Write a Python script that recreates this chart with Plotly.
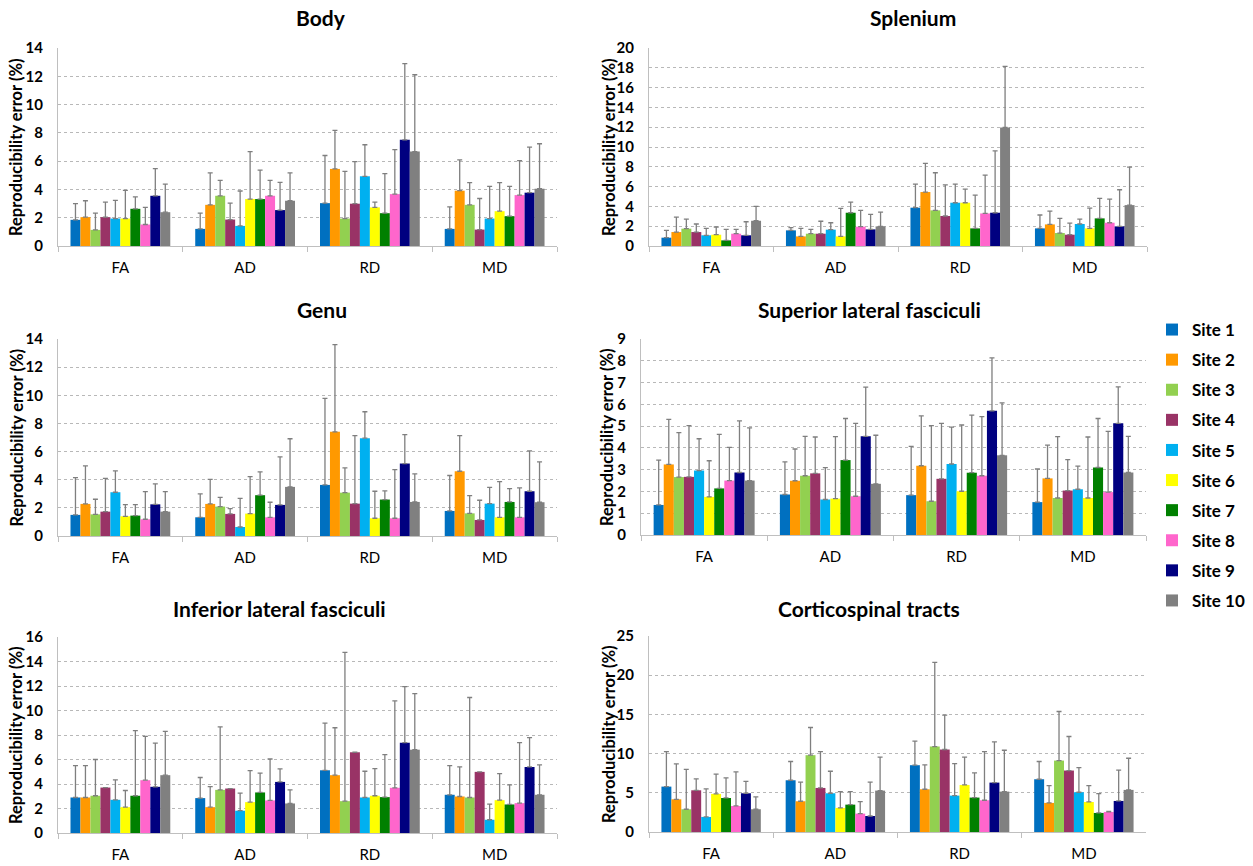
import plotly.graph_objects as go

# ---------------- data ----------------
metrics = ["FA", "AD", "RD", "MD"]
sites = ["Site 1", "Site 2", "Site 3", "Site 4", "Site 5",
         "Site 6", "Site 7", "Site 8", "Site 9", "Site 10"]
site_colors = ["#0070C0", "#FF9900", "#92D050", "#993366", "#00B0F0",
               "#FFFF00", "#008000", "#FF66CC", "#000080", "#808080"]

# values per site: [FA, AD, RD, MD]
body_mean = [[1.85, 1.21, 3.03, 1.21], [2.04, 2.91, 5.45, 3.91], [1.14, 3.55, 1.94, 2.91],
             [2.04, 1.87, 2.99, 1.16], [1.94, 1.42, 4.93, 1.94], [1.94, 3.32, 2.73, 2.46],
             [2.63, 3.32, 2.32, 2.11], [1.52, 3.55, 3.67, 3.60], [3.55, 2.54, 7.51, 3.77],
             [2.39, 3.20, 6.68, 4.05]]
body_sd = [[1.14, 1.11, 3.37, 1.56], [1.16, 2.26, 2.73, 2.18], [1.18, 1.09, 3.34, 1.57],
           [1.06, 1.16, 2.98, 2.20], [1.28, 2.47, 2.23, 2.28], [1.99, 3.36, 0.37, 2.02],
           [0.85, 2.04, 2.80, 2.11], [1.21, 1.09, 3.15, 2.44], [1.92, 1.96, 5.38, 3.22],
           [1.99, 1.97, 5.43, 3.18]]

splenium_mean = [[0.84, 1.58, 3.87, 1.78], [1.41, 0.97, 5.45, 2.18], [1.75, 1.24, 3.60, 1.31],
                 [1.41, 1.24, 3.03, 1.14], [1.08, 1.65, 4.37, 2.22], [1.14, 0.97, 4.37, 1.78],
                 [0.57, 3.36, 1.78, 2.79], [1.24, 1.95, 3.29, 2.35], [1.08, 1.68, 3.36, 1.98],
                 [2.55, 1.98, 11.97, 4.13]]
splenium_sd = [[0.74, 0.27, 2.38, 1.35], [1.51, 0.81, 2.89, 1.35], [0.97, 0.44, 3.80, 1.48],
               [0.81, 1.26, 3.15, 1.18], [0.70, 0.70, 1.88, 0.50], [0.78, 2.83, 1.38, 2.05],
               [1.11, 1.08, 3.36, 2.02], [0.44, 1.65, 3.87, 2.39], [1.37, 1.51, 6.25, 3.70],
               [1.45, 1.45, 6.18, 3.84]]

genu_mean = [[1.50, 1.33, 3.63, 1.78], [2.28, 2.28, 7.40, 4.60], [1.54, 2.09, 3.08, 1.61],
             [1.73, 1.57, 2.30, 1.14], [3.11, 0.64, 6.95, 2.30], [1.40, 1.59, 1.26, 1.33],
             [1.45, 2.90, 2.59, 2.42], [1.19, 1.33, 1.26, 1.33], [2.25, 2.21, 5.15, 3.18],
             [1.73, 3.49, 2.42, 2.40]]
genu_sd = [[2.65, 1.66, 6.15, 2.52], [2.70, 1.75, 6.20, 2.54], [1.07, 0.66, 1.76, 1.26],
           [2.37, 0.38, 4.84, 1.40], [1.52, 2.04, 1.88, 1.16], [0.83, 2.63, 1.92, 2.54],
           [0.78, 1.66, 0.61, 0.95], [1.97, 1.07, 3.46, 2.09], [1.45, 3.41, 2.06, 2.87],
           [1.43, 3.42, 1.99, 2.87]]

slf_mean = [[1.38, 1.86, 1.83, 1.51], [3.24, 2.49, 3.18, 2.60], [2.66, 2.72, 1.55, 1.70],
            [2.67, 2.83, 2.58, 2.04], [2.96, 1.63, 3.26, 2.10], [1.75, 1.67, 2.01, 1.70],
            [2.14, 3.44, 2.86, 3.10], [2.50, 1.78, 2.72, 1.97], [2.87, 4.53, 5.70, 5.13],
            [2.50, 2.35, 3.66, 2.87]]
slf_sd = [[2.06, 1.50, 2.24, 1.52], [2.07, 1.46, 2.29, 1.53], [2.04, 1.81, 3.47, 2.82],
          [2.35, 1.67, 2.55, 1.42], [1.46, 1.46, 1.69, 1.06], [1.66, 2.85, 3.04, 2.80],
          [2.48, 1.91, 2.64, 2.25], [1.52, 3.35, 2.72, 2.79], [2.37, 2.26, 2.43, 1.67],
          [2.42, 2.23, 2.41, 1.66]]

ilf_mean = [[2.90, 2.85, 5.12, 3.12], [2.90, 2.11, 4.72, 2.98], [3.04, 3.52, 2.60, 2.90],
            [3.71, 3.63, 6.59, 4.99], [2.71, 1.82, 2.90, 1.08], [2.11, 2.52, 3.04, 2.68],
            [3.04, 3.31, 2.93, 2.33], [4.31, 2.66, 3.69, 2.44], [3.77, 4.17, 7.37, 5.39],
            [4.72, 2.41, 6.80, 3.12]]
ilf_sd = [[2.60, 1.68, 3.85, 2.38], [2.60, 1.68, 3.87, 2.41], [2.96, 5.15, 12.14, 8.16],
          [0.00, 0.00, 0.00, 0.00], [1.63, 1.43, 2.14, 1.28], [1.36, 2.57, 2.22, 2.17],
          [5.31, 1.57, 3.47, 1.60], [3.58, 3.38, 7.10, 4.93], [3.57, 1.06, 4.58, 2.39],
          [3.57, 1.11, 4.58, 2.44]]

cst_mean = [[5.79, 6.60, 8.52, 6.73], [4.17, 3.92, 5.45, 3.71], [2.90, 9.80, 10.90, 9.11],
            [5.32, 5.62, 10.52, 7.84], [1.92, 4.94, 4.64, 5.07], [4.86, 3.07, 6.00, 3.83],
            [4.34, 3.49, 4.39, 2.43], [3.32, 2.34, 4.05, 2.56], [4.94, 2.04, 6.30, 3.96],
            [2.90, 5.28, 5.15, 5.37]]
cst_sd = [[4.47, 2.39, 3.06, 2.26], [4.52, 2.43, 3.11, 2.21], [5.10, 3.53, 10.74, 6.26],
          [1.45, 4.64, 4.38, 4.34], [3.57, 2.81, 4.09, 3.15], [2.51, 2.08, 3.54, 2.09],
          [2.56, 1.66, 3.15, 2.47], [4.35, 1.54, 6.21, 0.08], [1.53, 4.31, 5.20, 3.92],
          [1.57, 4.26, 5.28, 4.04]]

panel_titles = ["Body", "Splenium", "Genu", "Superior lateral fasciculi",
                "Inferior lateral fasciculi", "Corticospinal tracts"]
panel_means = [body_mean, splenium_mean, genu_mean, slf_mean, ilf_mean, cst_mean]
panel_sds = [body_sd, splenium_sd, genu_sd, slf_sd, ilf_sd, cst_sd]
panel_ymax = [14, 20, 14, 9, 16, 25]
panel_dtick = [2, 2, 2, 1, 2, 5]
y_title = "Reproducibility error (%)"

# ---------------- layout geometry (pixels) ----------------
W, H = 1253, 866
FONT = "Lato, 'Open Sans', sans-serif"
x_px = [(58, 557), (649, 1147), (58, 557), (641, 1146), (58, 557), (649, 1146)]
y_px = [(48, 246), (48, 246), (339, 536), (339, 535), (637, 833), (636, 832)]
title_px = [(321, 17), (913, 17), (322, 309), (869, 309), (279, 608), (869, 608)]
ytitle_x = [16, 609, 16, 607, 16, 609]

fig = go.Figure()

for p in range(6):
    ax = "" if p == 0 else str(p + 1)
    for s in range(10):
        fig.add_trace(go.Bar(
            x=metrics, y=panel_means[p][s], name=sites[s],
            marker=dict(color=site_colors[s], line=dict(width=0)),
            error_y=dict(type="data", symmetric=False, array=panel_sds[p][s],
                         arrayminus=[0] * len(metrics),
                         color="#7f7f7f", thickness=1.3, width=2.5),
            xaxis="x" + ax, yaxis="y" + ax,
            showlegend=(p == 0), legendgroup=sites[s],
        ))

layout = dict(
    width=W, height=H, margin=dict(l=0, r=0, t=0, b=0, autoexpand=False),
    paper_bgcolor="white", plot_bgcolor="white",
    barmode="group", bargap=0.2, bargroupgap=0,
    font=dict(family=FONT, color="black"),
    legend=dict(x=1152 / W, y=1 - 312 / H, xanchor="left", yanchor="top",
                font=dict(size=17, weight="bold", family=FONT),
                tracegroupgap=5, itemwidth=30, bgcolor="rgba(0,0,0,0)"),
)
annotations = []
for p in range(6):
    ax = "" if p == 0 else str(p + 1)
    (x0, x1), (y0, y1) = x_px[p], y_px[p]
    layout["xaxis" + ax] = dict(
        domain=[x0 / W, x1 / W], anchor="y" + ax, type="category",
        categoryorder="array", categoryarray=metrics,
        showline=True, linecolor="#bfbfbf", linewidth=1,
        ticks="outside", tickson="boundaries", ticklen=5, tickcolor="#bfbfbf",
        ticklabelstandoff=8, automargin=False,
        showgrid=False, tickfont=dict(size=15, family=FONT, color="black"),
        fixedrange=True,
    )
    layout["yaxis" + ax] = dict(
        domain=[1 - y1 / H, 1 - y0 / H], anchor="x" + ax,
        range=[0, panel_ymax[p]], dtick=panel_dtick[p], tick0=0,
        showline=True, linecolor="#bfbfbf", linewidth=1,
        showgrid=True, gridcolor="#b8b8b8", griddash="dot", gridwidth=1,
        zeroline=False, ticks="", ticklabelstandoff=11, automargin=False,
        tickfont=dict(size=15, family=FONT, weight="bold", color="black"),
        fixedrange=True,
    )
    tx, ty = title_px[p]
    annotations.append(dict(
        text=panel_titles[p], x=tx / W, y=1 - ty / H, xref="paper", yref="paper",
        xanchor="center", yanchor="middle", showarrow=False,
        font=dict(size=21, family=FONT, weight="bold", color="black")))
    annotations.append(dict(
        text=y_title, x=ytitle_x[p] / W, y=1 - (y0 + y1) / 2 / H,
        xref="paper", yref="paper", xanchor="center", yanchor="middle",
        textangle=-90, showarrow=False,
        font=dict(size=16.5, family=FONT, weight="bold", color="black")))
layout["annotations"] = annotations
fig.update_layout(**layout)

fig.write_html("out.html", config={"displayModeBar": False},
               post_script="document.body.style.margin='0';document.body.style.padding='0';")
